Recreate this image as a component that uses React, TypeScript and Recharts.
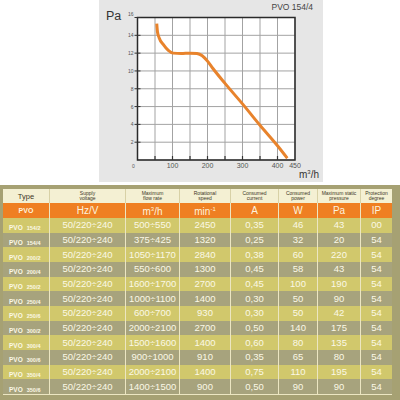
import React from "react"
import { LineChart, Line, XAxis, YAxis, CartesianGrid, ReferenceArea } from "recharts"

// fan curve PVO 154/4 (pressure vs flow)
const curveFlow = [55, 57, 62, 74, 88, 102, 125, 150, 170, 185, 200, 215, 250, 300, 350, 400, 428]
const curvePa = [15.3, 14.4, 13.7, 12.95, 12.3, 12.0, 11.95, 12.0, 11.95, 11.7, 11.1, 10.3, 8.6, 6.3, 3.9, 1.6, 0.2]

const xTicks = [0, 50, 100, 150, 200, 250, 300, 350, 400, 450]
const xLabels = [0, 100, 200, 300, 400, 450]
const yTicks = [0, 2, 4, 6, 8, 10, 12, 14, 16]

// table
const headerTitles = [
  ["Type"],
  ["Supply", "voltage"],
  ["Maximum", "flow rate"],
  ["Rotational", "speed"],
  ["Consumed", "current"],
  ["Consumed", "power"],
  ["Maximum static", "pressure"],
  ["Protection", "degree"],
]
const models = ["154/2", "154/4", "200/2", "200/4", "250/2", "250/4", "250/6", "300/2", "300/4", "300/6", "350/4", "350/6"]
const voltage = ["50/220÷240", "50/220÷240", "50/220÷240", "50/220÷240", "50/220÷240", "50/220÷240", "50/220÷240", "50/220÷240", "50/220÷240", "50/220÷240", "50/220÷240", "50/220÷240"]
const flowRate = ["500÷550", "375÷425", "1050÷1170", "550÷600", "1600÷1700", "1000÷1100", "600÷700", "2000÷2100", "1500÷1600", "900÷1000", "2000÷2100", "1400÷1500"]
const speed = [2450, 1320, 2840, 1300, 2700, 1400, 930, 2700, 1400, 910, 1400, 900]
const current = ["0,35", "0,25", "0,38", "0,45", "0,45", "0,30", "0,30", "0,50", "0,60", "0,35", "0,75", "0,50"]
const power = [46, 32, 60, 58, 100, 50, 50, 140, 80, 65, 110, 90]
const pressure = [43, 20, 220, 43, 190, 90, 42, 175, 135, 80, 195, 90]
const protection = ["00", "54", "54", "54", "54", "54", "54", "54", "54", "54", "54", "54"]

const colWidths = [46, 76, 54, 51, 48, 39, 43, 32]
const font = "'Liberation Sans', Arial, sans-serif"
const sep = "1px solid #ece6c2"

const units: React.ReactNode[] = [
  <span style={{ fontSize: 7, fontWeight: 700 }}>PVO</span>,
  "Hz/V",
  <span>m<sup style={{ fontSize: 6 }}>3</sup>/h</span>,
  <span>min<sup style={{ fontSize: 6 }}>-1</sup></span>,
  "A",
  "W",
  "Pa",
  "IP",
]

const chartData = curveFlow.map((f, i) => ({ flow: f, pa: curvePa[i] }))

function XTick({ x, y, payload }: any) {
  const v = payload.value
  return (
    <g>
      {v > 0 && v < 450 && <line x1={x} x2={x} y1={y - 4} y2={y} stroke="#333" strokeWidth={1.2} />}
      {xLabels.includes(v) && (
        <text x={v === 0 ? x - 4 : x} y={y + 8} textAnchor="middle" fontSize={v === 0 ? 5 : 7} fill="#555" fontFamily={font}>
          {v}
        </text>
      )}
    </g>
  )
}

function YTick({ x, y, payload }: any) {
  const v = payload.value
  if (v === 0) return <g />
  return (
    <g>
      <line x1={x - 3} x2={x + 3} y1={y} y2={y} stroke="#333" strokeWidth={1} />
      <text x={x - 4} y={v === 16 ? y - 2 : y + 2} textAnchor="end" fontSize={5} fill="#555" fontFamily={font}>
        {v}
      </text>
    </g>
  )
}

function Cell({ w, children, first, style }: any) {
  return (
    <div
      style={{
        width: w,
        boxSizing: "border-box",
        borderLeft: first ? "none" : sep,
        display: "flex",
        flexDirection: "column",
        alignItems: "center",
        justifyContent: "center",
        ...style,
      }}
    >
      {children}
    </div>
  )
}

export default function App() {
  return (
    <div style={{ position: "absolute", left: 0, top: 0, width: 400, height: 400, background: "#fff", fontFamily: font }}>
      <div style={{ position: "absolute", left: 99, top: 0, width: 224, height: 182, background: "#e6e6e6" }} />
      <svg width={400} height={182} style={{ position: "absolute", left: 0, top: 0 }}>
        <text x={106} y={19.5} fontSize={12.5} fill="#333" fontFamily={font}>Pa</text>
        <text x={271.5} y={10} fontSize={8.5} fill="#444" fontFamily={font}>PVO 154/4</text>
        <text x={299} y={178} fontSize={10} fill="#333" fontFamily={font}>
          m<tspan fontSize={6} dy={-4}>3</tspan><tspan dy={4}>/h</tspan>
        </text>
      </svg>
      <div style={{ position: "absolute", left: 100, top: 0 }}>
        <LineChart width={223} height={182} data={chartData} margin={{ top: 17.5, right: 28, bottom: 0, left: 0 }}>
          <CartesianGrid stroke="#a3a3a3" fill="#fff" />
          <XAxis
            dataKey="flow"
            type="number"
            domain={[0, 450]}
            ticks={xTicks}
            interval={0}
            axisLine={false}
            tickLine={false}
            tickSize={0}
            tickMargin={0}
            height={22}
            tick={<XTick />}
          />
          <YAxis
            type="number"
            domain={[0, 16]}
            ticks={yTicks}
            interval={0}
            axisLine={false}
            tickLine={false}
            tickSize={0}
            tickMargin={0}
            width={37.5}
            tick={<YTick />}
          />
          <ReferenceArea x1={0} x2={450} y1={0} y2={16} fill="none" stroke="#2a2a2a" strokeWidth={1.5} />
          <Line dataKey="pa" type="monotone" stroke="#e8832c" strokeWidth={3} dot={false} isAnimationActive={false} />
        </LineChart>
      </div>

      <div style={{ position: "absolute", left: 0, top: 185, width: 400, height: 215, background: "#a6a173" }} />
      <div style={{ position: "absolute", left: 3, top: 189, width: 389 }}>
        <div style={{ display: "flex", height: 14, background: "#f4f0d3", color: "#3b3626" }}>
          {headerTitles.map((t, c) => (
            <Cell key={c} w={colWidths[c]} first={c === 0} style={{ borderLeft: c === 0 ? "none" : "1px solid #d8d1a6" }}>
              {c === 0 ? (
                <span style={{ fontSize: 7.5 }}>{t[0]}</span>
              ) : (
                t.map((line, k) => (
                  <span key={k} style={{ fontSize: 5, lineHeight: "5.5px" }}>
                    {line}
                  </span>
                ))
              )}
            </Cell>
          ))}
        </div>
        <div style={{ display: "flex", height: 15, background: "#ef7f22", color: "#fdf2de", fontSize: 10 }}>
          {units.map((u, c) => (
            <Cell key={c} w={colWidths[c]} first={c === 0}>
              <span style={{ lineHeight: "10px" }}>{u}</span>
            </Cell>
          ))}
        </div>
        {models.map((m, r) => {
          const vals = [voltage[r], flowRate[r], speed[r], current[r], power[r], pressure[r], protection[r]]
          return (
            <div key={m} style={{ display: "flex", height: 14.67, background: r % 2 === 0 ? "#d1c86c" : "#a7a37d", color: "#fbf8e6" }}>
              <Cell w={colWidths[0]} first style={{ alignItems: "flex-start", paddingLeft: 6 }}>
                <span style={{ whiteSpace: "nowrap", fontWeight: 700 }}>
                  <span style={{ fontSize: 6.5 }}>PVO</span>
                  <span style={{ fontSize: 5.5, marginLeft: 4 }}>{m}</span>
                </span>
              </Cell>
              {vals.map((v, c) => (
                <Cell key={c} w={colWidths[c + 1]}>
                  <span style={{ fontSize: 9.5, lineHeight: "10px", whiteSpace: "nowrap" }}>{v}</span>
                </Cell>
              ))}
            </div>
          )
        })}
        <div style={{ height: 1, background: "#ece6c2" }} />
      </div>
    </div>
  )
}
